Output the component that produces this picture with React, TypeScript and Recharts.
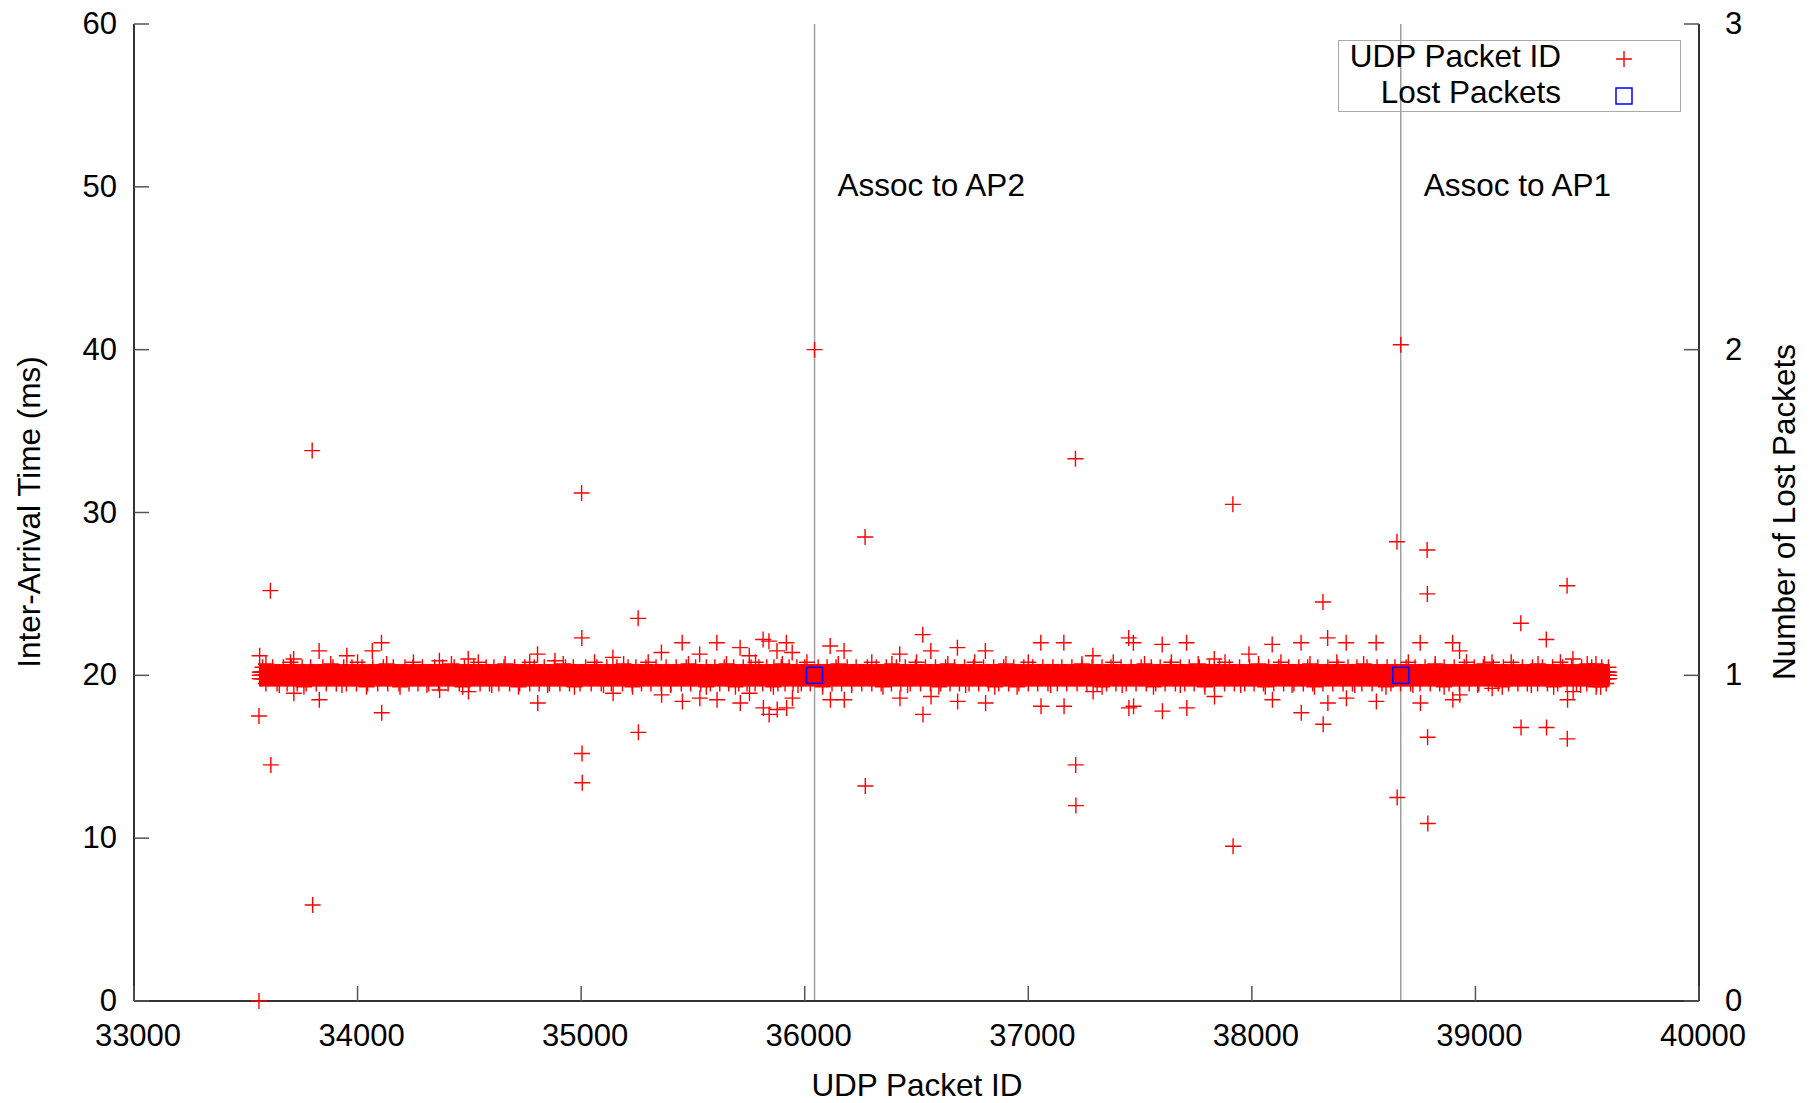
import { ScatterChart, Scatter, XAxis, YAxis, ReferenceLine } from 'recharts';

const FONT = '"Liberation Sans", Arial, Helvetica, sans-serif';

const xTicks = [33000, 34000, 35000, 36000, 37000, 38000, 39000, 40000];
const yTicks = [0, 10, 20, 30, 40, 50, 60];
const y2Ticks = [0, 1, 2, 3];

// the trace: packets arrive on the 20 ms clock, quantised to 19.8 / 20 / 20.2 ms
const firstId = 33562;
const lastId = 39600;
const bandLevels = [19.8, 20, 20.2];

// big outliers
const spikes: [number, number][] = [
    [33559, 0], [33559, 17.5], [33562, 21.2], [33610, 25.2], [33612, 14.5], [33797, 33.8], [33799, 5.9],
    [35002, 31.2], [35003, 22.3], [35004, 15.2], [35005, 13.4], [35255, 23.5], [35256, 16.5],
    [36044, 40.0], [36270, 28.5], [36271, 13.2], [37211, 33.3], [37212, 14.5], [37213, 12.0],
    [37915, 30.5], [37916, 9.5], [38318, 24.5], [38319, 17.0], [38649, 28.2], [38650, 12.5],
    [38666, 40.3], [38784, 27.7], [38785, 25.0], [38786, 16.2], [38787, 10.9],
    [39203, 23.2], [39204, 16.8], [39317, 22.2], [39318, 16.8], [39410, 25.5], [39411, 16.1], [39412, 18.5],
];

// moderate deviations just off the band
const wobble: [number, number][] = [
    [33714, 21.0], [33715, 18.9], [33828, 21.5], [33829, 18.5], [33952, 21.2], [34066, 21.5],
    [34107, 22.0], [34108, 17.7], [34366, 20.9], [34367, 19.1], [34495, 21.0], [34496, 19.0],
    [34805, 21.3], [34806, 18.3], [34883, 20.9], [35142, 21.1], [35143, 18.9], [35359, 21.4], [35360, 18.8],
    [35452, 22.0], [35453, 18.4], [35530, 21.3], [35531, 18.6], [35607, 22.0], [35608, 18.5],
    [35711, 21.7], [35712, 18.3], [35752, 21.2], [35753, 18.9], [35814, 22.2], [35815, 18.0],
    [35840, 22.1], [35841, 17.6], [35876, 21.5], [35877, 17.9], [35918, 22.0], [35919, 18.0],
    [35944, 21.4], [35945, 18.6], [36114, 21.8], [36115, 18.5], [36176, 21.5], [36177, 18.5],
    [36425, 21.3], [36426, 18.6], [36528, 22.5], [36529, 17.6], [36564, 21.5], [36565, 18.7],
    [36683, 21.7], [36684, 18.4], [36808, 21.5], [36809, 18.3], [37056, 22.0], [37057, 18.1],
    [37159, 22.0], [37160, 18.1], [37289, 21.2], [37290, 19.0], [37449, 22.3], [37450, 18.0],
    [37470, 22.0], [37471, 18.1], [37599, 21.9], [37600, 17.8], [37708, 22.0], [37709, 18.0],
    [37832, 21.0], [37833, 18.7], [37987, 21.3], [38091, 21.9], [38092, 18.5], [38220, 22.0], [38221, 17.7],
    [38339, 22.3], [38340, 18.3], [38422, 22.0], [38423, 18.6], [38556, 22.0], [38557, 18.4],
    [38753, 22.0], [38754, 18.3], [38898, 22.0], [38899, 18.5], [38929, 21.5], [38930, 18.8],
    [39074, 20.8], [39075, 19.2], [39436, 21.0], [39437, 19.0], [39539, 20.7], [39540, 19.3],
];

// small jitter at the edge of the band
const fringe: [number, number][] = [
    [33590, 20.7], [33650, 19.4], [33700, 20.8], [33760, 19.3], [33880, 20.7], [33930, 19.4],
    [34000, 20.8], [34040, 19.3], [34130, 20.7], [34190, 19.3], [34250, 20.8], [34310, 19.4],
    [34420, 20.7], [34470, 19.3], [34540, 20.8], [34600, 19.4], [34660, 20.7], [34720, 19.3],
    [34770, 20.8], [34850, 19.4], [34920, 20.7], [34970, 19.3], [35060, 20.8], [35100, 19.4],
    [35190, 20.7], [35230, 19.3], [35300, 20.8], [35400, 19.4], [35480, 20.7], [35560, 19.3],
    [35650, 20.7], [35690, 19.3], [35780, 20.8], [35860, 19.3], [35900, 20.7], [35970, 19.4],
    [36010, 20.8], [36080, 19.3], [36150, 20.7], [36210, 19.4], [36300, 20.8], [36350, 19.3],
    [36390, 20.7], [36460, 19.4], [36500, 20.8], [36600, 19.3], [36640, 20.7], [36720, 19.4],
    [36760, 20.8], [36850, 19.3], [36900, 20.7], [36950, 19.3], [37000, 20.8], [37100, 19.4],
    [37240, 20.7], [37330, 19.3], [37380, 20.8], [37420, 19.4], [37520, 20.7], [37560, 19.3],
    [37640, 20.8], [37680, 19.4], [37760, 20.7], [37790, 19.3], [37880, 20.8], [37950, 19.4],
    [38030, 20.7], [38060, 19.3], [38130, 20.8], [38180, 19.4], [38260, 20.7], [38280, 19.3],
    [38380, 20.8], [38460, 19.4], [38500, 20.7], [38600, 19.3], [38700, 20.8], [38720, 19.4],
    [38820, 20.7], [38860, 19.3], [38960, 20.8], [39010, 19.4], [39040, 20.7], [39120, 19.3],
    [39160, 20.8], [39250, 19.4], [39280, 20.7], [39350, 19.3], [39380, 20.8], [39470, 19.4],
    [39500, 20.7], [39560, 19.3],
];

// packets at 20.5 ms and at 19.5 ms (short spikes on the band edge)
const edgeUp = [
    33575, 33620, 33668, 33705, 33752, 33790, 33845, 33890, 33938, 33975, 34020, 34068, 34115, 34160, 34212,
    34248, 34290, 34345, 34380, 34432, 34478, 34520, 34575, 34610, 34655, 34702, 34748, 34790, 34835, 34880,
    34930, 34965, 35020, 35070, 35115, 35160, 35210, 35245, 35290, 35335, 35380, 35425, 35470, 35512, 35560,
    35598, 35640, 35682, 35725, 35760, 35795, 35830, 35862, 35895, 35930, 35965, 36000, 36060, 36100, 36140,
    36190, 36230, 36280, 36320, 36365, 36410, 36450, 36495, 36540, 36585, 36630, 36670, 36715, 36755, 36800,
    36845, 36890, 36935, 36980, 37020, 37065, 37110, 37150, 37195, 37240, 37285, 37330, 37370, 37415, 37460,
    37505, 37550, 37590, 37635, 37680, 37720, 37765, 37810, 37855, 37900, 37945, 37990, 38030, 38075, 38120,
    38165, 38210, 38250, 38295, 38340, 38385, 38430, 38470, 38515, 38560, 38605, 38640, 38690, 38730, 38775,
    38820, 38860, 38905, 38950, 38995, 39035, 39080, 39125, 39170, 39210, 39255, 39300, 39345, 39390, 39430,
    39475, 39520, 39565, 39595,
];
const edgeDown = [
    33590, 33640, 33685, 33730, 33770, 33815, 33860, 33905, 33950, 33995, 34045, 34090, 34135, 34185, 34230,
    34270, 34318, 34362, 34405, 34455, 34498, 34548, 34590, 34632, 34680, 34725, 34770, 34812, 34858, 34905,
    34948, 34995, 35045, 35090, 35135, 35185, 35228, 35270, 35312, 35358, 35402, 35448, 35490, 35535, 35578,
    35620, 35660, 35705, 35742, 35778, 35812, 35848, 35880, 35912, 35948, 35985, 36025, 36080, 36122, 36165,
    36210, 36255, 36300, 36342, 36388, 36430, 36472, 36518, 36562, 36608, 36650, 36692, 36735, 36778, 36822,
    36868, 36912, 36958, 37000, 37042, 37088, 37130, 37172, 37218, 37262, 37308, 37350, 37392, 37438, 37482,
    37528, 37570, 37612, 37658, 37700, 37742, 37788, 37832, 37878, 37922, 37968, 38010, 38052, 38098, 38142,
    38188, 38230, 38272, 38318, 38362, 38408, 38450, 38492, 38538, 38582, 38622, 38665, 38710, 38752, 38798,
    38840, 38882, 38928, 38972, 39015, 39058, 39102, 39148, 39190, 39232, 39278, 39322, 39368, 39410, 39452,
    39498, 39542, 39585,
];

const handoffIds = [36044, 38666];
const handoffNames = ['Assoc to AP2', 'Assoc to AP1'];
const lostCount = [1, 1];

const packets: { id: number; ms: number }[] = [];
bandLevels.forEach((ms) => {
    for (let id = firstId; id <= lastId; id += 4) packets.push({ id, ms });
});
edgeUp.forEach((id) => packets.push({ id, ms: 20.5 }));
edgeDown.forEach((id) => packets.push({ id, ms: 19.5 }));
[...fringe, ...wobble, ...spikes].forEach(([id, ms]) => packets.push({ id, ms }));

const lost = handoffIds.map((id, i) => ({ id, n: lostCount[i] }));

const tickStroke = '#555';
const frame = { stroke: '#333', strokeWidth: 2 };
const TICK_FS = 31;
const TEXT_FS = 31.5;

function Cross(props: any) {
    const { cx, cy } = props;
    if (cx == null || cy == null) return null;
    return <path d={`M${cx - 8},${cy}H${cx + 8}M${cx},${cy - 8}V${cy + 8}`} stroke="#ff0000" strokeWidth={1.4} fill="none" />;
}

function Box(props: any) {
    const { cx, cy } = props;
    if (cx == null || cy == null) return null;
    return <rect x={cx - 8} y={cy - 8} width={16} height={16} stroke="#0000ff" strokeWidth={1.5} fill="none" />;
}

const BottomTick = (p: any) => (
    <g>
        <line x1={p.x} x2={p.x} y1={p.y} y2={p.y - 15} stroke={tickStroke} strokeWidth={1.5} />
        <text x={p.x + 4} y={p.y + 45} textAnchor="middle" fontFamily={FONT} fontSize={TICK_FS} fill="#000">{p.payload.value}</text>
    </g>
);

const TopTick = (p: any) => (
    <line x1={p.x} x2={p.x} y1={p.y} y2={p.y + 15} stroke={tickStroke} strokeWidth={1.5} />
);

const LeftTick = (p: any) => (
    <g>
        <line x1={p.x} x2={p.x + 15} y1={p.y} y2={p.y} stroke={tickStroke} strokeWidth={1.5} />
        <text x={p.x - 17} y={p.y + 10} textAnchor="end" fontFamily={FONT} fontSize={TICK_FS} fill="#000">{p.payload.value}</text>
    </g>
);

const RightTick = (p: any) => (
    <g>
        <line x1={p.x} x2={p.x - 15} y1={p.y} y2={p.y} stroke={tickStroke} strokeWidth={1.5} />
        <text x={p.x + 26} y={p.y + 10} textAnchor="start" fontFamily={FONT} fontSize={TICK_FS} fill="#000">{p.payload.value}</text>
    </g>
);

const title = (x: number, y: number, text: string, angle = 0) => () => (
    <text x={x} y={y} transform={angle ? `rotate(${angle}, ${x}, ${y})` : undefined} textAnchor="middle"
        dominantBaseline="central" fontFamily={FONT} fontSize={TEXT_FS} fill="#000">{text}</text>
);

export default function App() {
    return (
        <div style={{ position: 'absolute', left: 0, top: 0, width: 1813, height: 1103, background: '#fff' }}>
            <ScatterChart width={1813} height={1103} margin={{ top: 24, right: 0, bottom: 0, left: 0 }}>
                <XAxis xAxisId="b" dataKey="id" type="number" domain={[33000, 40000]} ticks={xTicks} interval={0}
                    height={102} tickSize={0} tickMargin={0} tickLine={false} axisLine={frame} tick={BottomTick}
                    label={title(917, 1085, 'UDP Packet ID')} />
                <XAxis xAxisId="t" orientation="top" dataKey="id" type="number" domain={[33000, 40000]} ticks={xTicks}
                    interval={0} height={0} tickSize={0} tickMargin={0} tickLine={false} axisLine={frame} tick={TopTick} />
                <YAxis yAxisId="l" dataKey="ms" type="number" domain={[0, 60]} ticks={yTicks} interval={0} width={134}
                    tickSize={0} tickMargin={0} tickLine={false} axisLine={frame} tick={LeftTick}
                    label={title(29, 512, 'Inter-Arrival Time (ms)', -90)} />
                <YAxis yAxisId="r" orientation="right" dataKey="n" type="number" domain={[0, 3]} ticks={y2Ticks} interval={0}
                    width={114} tickSize={0} tickMargin={0} tickLine={false} axisLine={frame} tick={RightTick}
                    label={title(1784, 512, 'Number of Lost Packets', -90)} />
                {handoffIds.map((id, i) => (
                    <ReferenceLine key={id} x={id} xAxisId="b" yAxisId="l" stroke="#a0a0a0" strokeWidth={1.5}
                        label={(p: any) => (
                            <text x={(p.viewBox?.x ?? 0) + 23} y={196} fontFamily={FONT} fontSize={TEXT_FS} fill="#000">{handoffNames[i]}</text>
                        )} />
                ))}
                <Scatter name="UDP Packet ID" data={packets} xAxisId="b" yAxisId="l" shape={Cross} isAnimationActive={false} />
                <Scatter name="Lost Packets" data={lost} xAxisId="b" yAxisId="r" shape={Box} isAnimationActive={false} />
            </ScatterChart>
            <div style={{
                position: 'absolute', left: 1338, top: 40, width: 343, height: 72, border: '1.5px solid #aaa',
                boxSizing: 'border-box', fontFamily: FONT, fontSize: TEXT_FS, color: '#000',
            }}>
                <div style={{ position: 'absolute', right: 119, top: -3, whiteSpace: 'nowrap' }}>UDP Packet ID</div>
                <div style={{ position: 'absolute', right: 119, top: 33, whiteSpace: 'nowrap' }}>Lost Packets</div>
                <svg style={{ position: 'absolute', left: 0, top: 0 }} width={343} height={72}>
                    <path d="M277,18H293M285,10V26" stroke="#ff0000" strokeWidth={1.4} fill="none" />
                    <rect x={277} y={47} width={16} height={16} stroke="#0000ff" strokeWidth={1.5} fill="none" />
                </svg>
            </div>
        </div>
    );
}
